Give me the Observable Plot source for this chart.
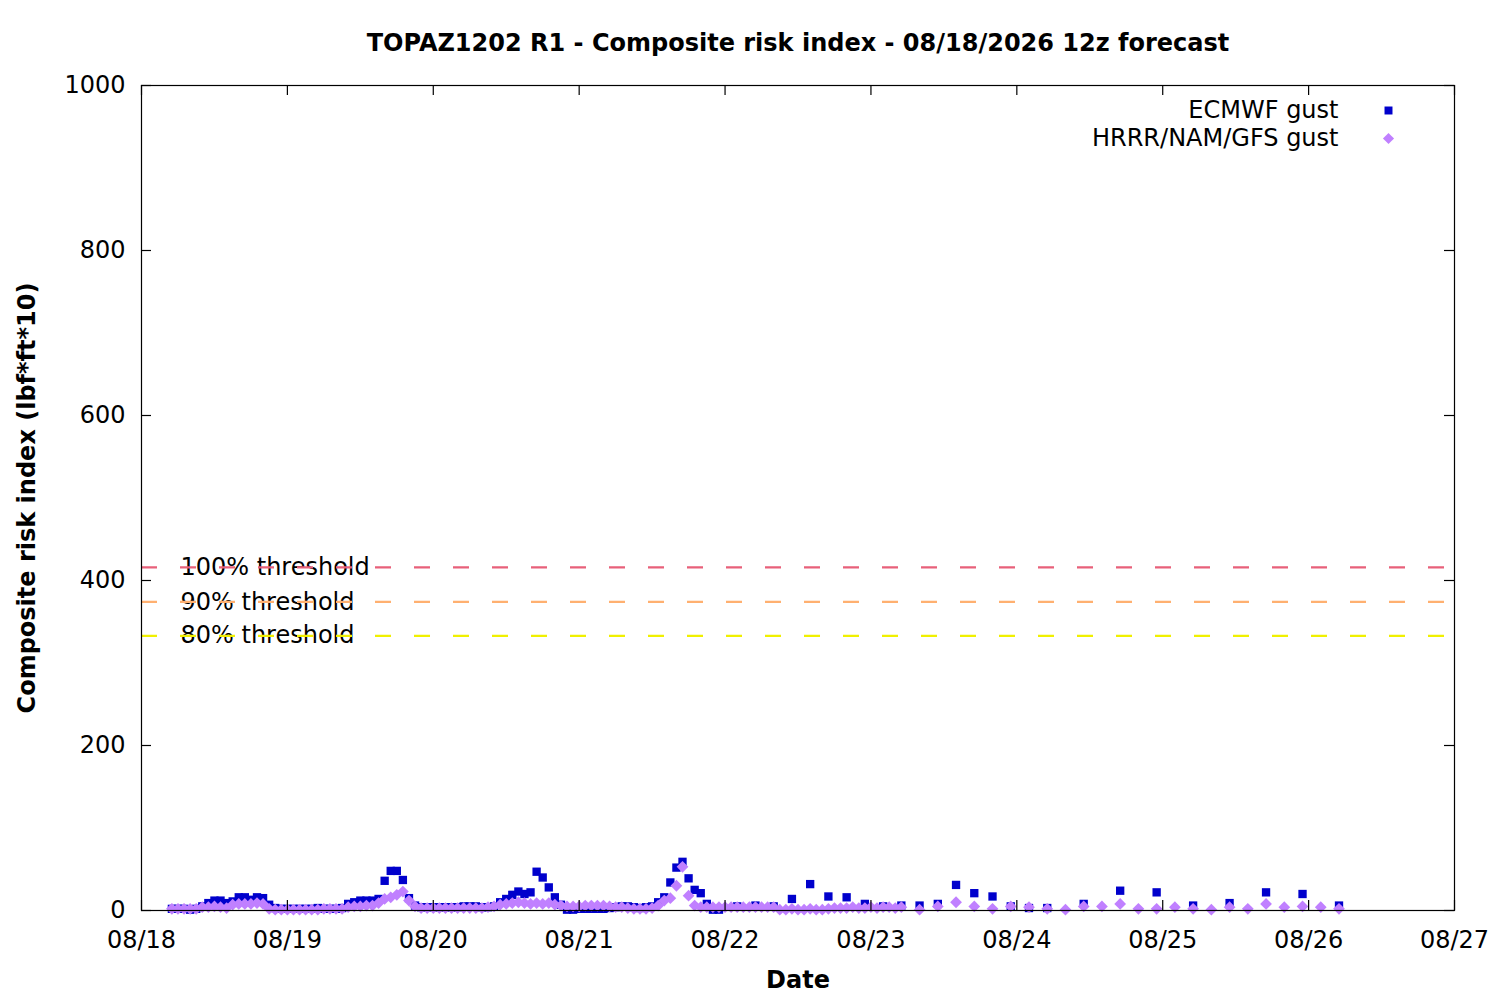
<!DOCTYPE html>
<html>
<head>
<meta charset="utf-8">
<script src="https://cdn.jsdelivr.net/npm/d3@7"></script>
<script src="https://cdn.jsdelivr.net/npm/@observablehq/plot@0.6"></script>
<style>
  body { margin: 0; background: #fff; }
  #chart svg { font-family: "DejaVu Sans", sans-serif; background: #fff; }
</style>
</head>
<body>
<div id="chart"></div>
<script>
// ---------- data ----------
const title = "TOPAZ1202 R1 - Composite risk index - 08/18/2026 12z forecast";
const xLabel = "Date";
const yLabel = "Composite risk index (lbf*ft*10)";
const dayLabels = ["08/18","08/19","08/20","08/21","08/22","08/23","08/24","08/25","08/26","08/27"];
const yTicks = [0, 200, 400, 600, 800, 1000];
const seriesNames = ["ECMWF gust", "HRRR/NAM/GFS gust"];

// hours after 08/18 00:00 of the first value of each block, and the block's step (hours)
const ecmwfHourlyStart = 5, ecmwfHourlyStep = 1;
const ecmwfHourly = [
  2,2,2,1,2,
  5,9,12,12,9,11,16,16,13,16,
  15,7,3,2,2,2,2,2,2,3,
  2,2,2,3,8,10,12,12,12,14,
  36,48,48,37,15,6,4,4,4,4,
  4,4,4,5,5,5,4,4,5,10,
  14,19,23,20,22,47,40,28,16,7,
  1,1,2,2,2,2,2,3,4,5,
  5,4,3,4,5,10,16,34,52,59,
  39,25,21,8,1,1
];
const ecmwf3hStart = 98, ecmwf3hStep = 3;
const ecmwf3h = [5,6,5,14,32,17,16,8,5,6,6,8,31,21,17,5,3,3];
const ecmwf6hStart = 155, ecmwf6hStep = 6;
const ecmwf6h = [8,24,22,6,9,22,20,6];

const gfsHourlyStart = 5, gfsHourlyStep = 1;
const gfsHourly = [
  2,2,2,2,2,
  4,4,5,4,3,7,8,8,8,9,
  8,2,1,1,1,1,1,1,1,1,
  2,2,2,2,4,5,5,6,6,9,
  14,16,19,23,12,5,3,3,3,3,
  3,3,3,3,3,3,3,4,5,7,
  8,9,10,9,8,9,8,9,7,6,
  5,5,5,6,6,6,6,5,4,4,
  3,2,2,2,3,6,12,15,30,53,
  18,6,4,4,4,4,4,4,4,4,
  4,4,4,4,4,1,1,2,1,1,
  2,1,1,2,3,3,3,4,3,3,
  4,3,4,4,3,4
];
const gfs3hStart = 128, gfs3hStep = 3;
const gfs3h = [1,5,10,5,2,5,4,2,1,5,5,8,2,2,4,2,1,4,2,8,4,5,4,2];

const thresholdLabels = ["100% threshold", "90% threshold", "80% threshold"];
const thresholdValues = [416, 374, 333];

// ---------- build tables ----------
const t0 = Date.UTC(2026, 7, 18);
const HOUR = 3600e3;
function block(values, start, step) {
  return values.map((v, i) => ({ date: new Date(t0 + (start + i * step) * HOUR), value: v }));
}
const ecmwf = [
  ...block(ecmwfHourly, ecmwfHourlyStart, ecmwfHourlyStep),
  ...block(ecmwf3h, ecmwf3hStart, ecmwf3hStep),
  ...block(ecmwf6h, ecmwf6hStart, ecmwf6hStep)
];
const gfs = [
  ...block(gfsHourly, gfsHourlyStart, gfsHourlyStep),
  ...block(gfs3h, gfs3hStart, gfs3hStep)
];
const dayDates = dayLabels.map((_, i) => new Date(t0 + i * 24 * HOUR));
const thresholds = thresholdLabels.map((label, i) => ({ label, value: thresholdValues[i] }));

// ---------- styles ----------
const thresholdColors = ["#e8607a", "#ffb070", "#f0f000"];
const ecmwfColor = "#0000cc";
const gfsColor = "#c080ff";
const FS = 24;
const W = 1500, H = 1000;
const mL = 141, mR = 46, mT = 85, mB = 90;
const frameW = W - mL - mR, frameH = H - mT - mB;
const tickLen = 10;
const rSq = 4.7, rDi = 5.3;

const chart = Plot.plot({
  width: W,
  height: H,
  marginLeft: mL,
  marginRight: mR,
  marginTop: mT,
  marginBottom: mB,
  style: { fontFamily: "DejaVu Sans", fontSize: FS + "px", color: "#000", background: "#fff" },
  x: { type: "utc", domain: [dayDates[0], dayDates[dayDates.length - 1]], label: null },
  y: { domain: [0, 1000], label: null },
  marks: [
    // threshold labels (drawn under the dashed lines)
    Plot.text(thresholds, {
      y: "value", text: "label", frameAnchor: "left", dx: 39,
      textAnchor: "start", lineAnchor: "middle", fontSize: FS, fill: "#000"
    }),
    // threshold lines
    ...thresholds.map((d, i) => Plot.ruleY([d.value], {
      stroke: thresholdColors[i], strokeWidth: 2.2, strokeDasharray: "16,23"
    })),
    // series
    Plot.dot(ecmwf, { x: "date", y: "value", symbol: "square", r: rSq, fill: ecmwfColor, stroke: null }),
    Plot.dot(gfs, { x: "date", y: "value", symbol: "diamond2", r: rDi, fill: gfsColor, stroke: null }),
    // frame and inward ticks
    Plot.frame({ stroke: "#000", strokeWidth: 1.2 }),
    Plot.tickX(dayDates, { x: d => d, insetTop: frameH - tickLen, stroke: "#000", strokeWidth: 1.2 }),
    Plot.tickX(dayDates, { x: d => d, insetBottom: frameH - tickLen, stroke: "#000", strokeWidth: 1.2 }),
    Plot.tickY(yTicks, { y: d => d, insetRight: frameW - tickLen, stroke: "#000", strokeWidth: 1.2 }),
    Plot.tickY(yTicks, { y: d => d, insetLeft: frameW - tickLen, stroke: "#000", strokeWidth: 1.2 }),
    // axes labels
    Plot.axisX({ ticks: dayDates, tickFormat: (d, i) => dayLabels[i], tickSize: 0, tickPadding: 20, fontSize: FS, label: null }),
    Plot.axisY({ ticks: yTicks, tickFormat: d => String(d), tickSize: 0, tickPadding: 16, fontSize: FS, label: null }),
    // title, axis titles
    Plot.text([title], { text: d => d, frameAnchor: "top", dy: -42, lineAnchor: "middle", textAnchor: "middle", fontSize: FS, fontWeight: "bold", fill: "#000" }),
    Plot.text([xLabel], { text: d => d, frameAnchor: "bottom", dy: 70, lineAnchor: "middle", textAnchor: "middle", fontSize: FS, fontWeight: "bold", fill: "#000" }),
    Plot.text([yLabel], { text: d => d, frameAnchor: "left", dx: -114, rotate: -90, lineAnchor: "middle", textAnchor: "middle", fontSize: FS, fontWeight: "bold", fill: "#000" }),
    // legend
    Plot.text([seriesNames[0]], { text: d => d, frameAnchor: "top-right", dx: -116, dy: 25, textAnchor: "end", lineAnchor: "middle", fontSize: FS, fill: "#000" }),
    Plot.text([seriesNames[1]], { text: d => d, frameAnchor: "top-right", dx: -116, dy: 53, textAnchor: "end", lineAnchor: "middle", fontSize: FS, fill: "#000" }),
    Plot.dot([seriesNames[0]], { frameAnchor: "top-right", dx: -66, dy: 25, symbol: "square", r: 4.5, fill: ecmwfColor, stroke: null }),
    Plot.dot([seriesNames[1]], { frameAnchor: "top-right", dx: -66, dy: 53, symbol: "diamond2", r: 5, fill: gfsColor, stroke: null })
  ]
});
document.getElementById("chart").appendChild(chart);
</script>
</body>
</html>
